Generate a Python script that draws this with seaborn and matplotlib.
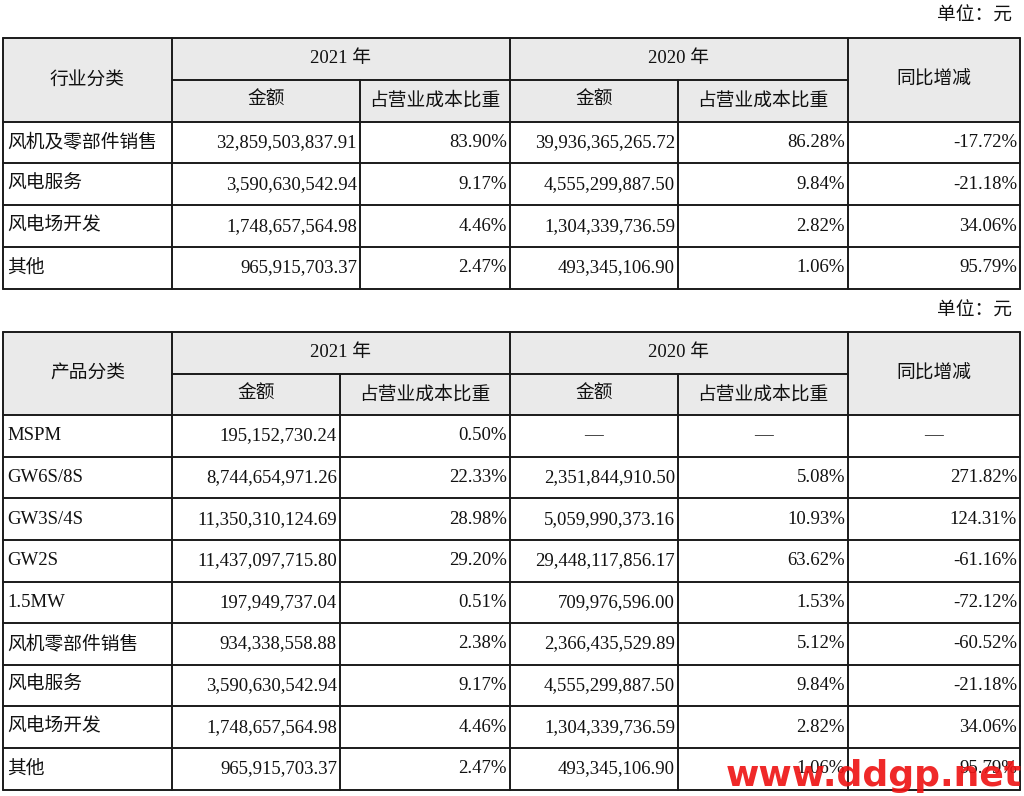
import matplotlib
matplotlib.use("Agg")
import matplotlib.pyplot as plt
import seaborn as sns

sns.set_theme(style="white")

unit = "单位：元"
year_a, year_b = "2021 年", "2020 年"
sub_amt, sub_pct, yoy = "金额", "占营业成本比重", "同比增减"

t1_title = "行业分类"
t1_cats = ["风机及零部件销售", "风电服务", "风电场开发", "其他"]
t1_amt21 = ["32,859,503,837.91", "3,590,630,542.94", "1,748,657,564.98", "965,915,703.37"]
t1_pct21 = ["83.90%", "9.17%", "4.46%", "2.47%"]
t1_amt20 = ["39,936,365,265.72", "4,555,299,887.50", "1,304,339,736.59", "493,345,106.90"]
t1_pct20 = ["86.28%", "9.84%", "2.82%", "1.06%"]
t1_yoy = ["-17.72%", "-21.18%", "34.06%", "95.79%"]

t2_title = "产品分类"
t2_cats = ["MSPM", "GW6S/8S", "GW3S/4S", "GW2S", "1.5MW", "风机零部件销售", "风电服务", "风电场开发", "其他"]
t2_amt21 = ["195,152,730.24", "8,744,654,971.26", "11,350,310,124.69", "11,437,097,715.80",
            "197,949,737.04", "934,338,558.88", "3,590,630,542.94", "1,748,657,564.98", "965,915,703.37"]
t2_pct21 = ["0.50%", "22.33%", "28.98%", "29.20%", "0.51%", "2.38%", "9.17%", "4.46%", "2.47%"]
t2_amt20 = ["—", "2,351,844,910.50", "5,059,990,373.16", "29,448,117,856.17", "709,976,596.00",
            "2,366,435,529.89", "4,555,299,887.50", "1,304,339,736.59", "493,345,106.90"]
t2_pct20 = ["—", "5.08%", "10.93%", "63.62%", "1.53%", "5.12%", "9.84%", "2.82%", "1.06%"]
t2_yoy = ["—", "271.82%", "124.31%", "-61.16%", "-72.12%", "-60.52%", "-21.18%", "34.06%", "95.79%"]

FONT = ["Liberation Serif", "Noto Sans CJK SC"]
fig = plt.figure(figsize=(10.24, 7.96), dpi=100)
ax = fig.add_axes([0, 0, 1, 1])
ax.set_xlim(0, 1024); ax.set_ylim(796, 0); ax.axis("off")
FS = 13.5

def txt(x, y, s, ha="center", **kw):
    ax.text(x, y, s, ha=ha, va="center", fontsize=FS, family=FONT, color="#111", **kw)

def table(top, rowh, cols, title, cats, a21, p21, a20, p20, yy):
    n = len(cats)
    h1 = top + rowh
    bottom = top + rowh * (2 + n)
    ax.add_patch(plt.Rectangle((cols[0], top), cols[-1] - cols[0], 2 * rowh, color="#eaeaea", lw=0))
    lw = 1.4
    ax.plot([cols[0], cols[-1]], [top, top], color="k", lw=lw)
    ax.plot([cols[1], cols[5]], [h1, h1], color="k", lw=lw)
    for i in range(n + 1):
        y = top + rowh * (2 + i)
        ax.plot([cols[0], cols[-1]], [y, y], color="k", lw=lw)
    for j, x in enumerate(cols):
        y0 = h1 if j in (2, 4) else top
        ax.plot([x, x], [y0, bottom], color="k", lw=lw)
    txt((cols[0] + cols[1]) / 2, top + rowh, title)
    txt((cols[1] + cols[3]) / 2, top + rowh / 2, year_a)
    txt((cols[3] + cols[5]) / 2, top + rowh / 2, year_b)
    txt((cols[5] + cols[6]) / 2, top + rowh, yoy)
    for a, b, s in [(1, 2, sub_amt), (2, 3, sub_pct), (3, 4, sub_amt), (4, 5, sub_pct)]:
        txt((cols[a] + cols[b]) / 2, top + 1.5 * rowh, s)
    for i in range(n):
        y = top + rowh * (2.5 + i)
        txt(cols[0] + 4, y, cats[i], ha="left")
        for j, v in enumerate([a21[i], p21[i], a20[i], p20[i], yy[i]]):
            if v == "—":
                txt((cols[j + 1] + cols[j + 2]) / 2, y, v)
            else:
                txt(cols[j + 2] - 3, y, v, ha="right")

txt(1012, 16, unit, ha="right")
table(38, 41.8, [3, 172, 360, 510, 678, 848, 1020], t1_title, t1_cats, t1_amt21, t1_pct21, t1_amt20, t1_pct20, t1_yoy)
txt(1012, 311, unit, ha="right")
table(332, 41.6, [3, 172, 340, 510, 678, 848, 1020], t2_title, t2_cats, t2_amt21, t2_pct21, t2_amt20, t2_pct20, t2_yoy)
ax.text(1022, 776, "www.ddgp.net", ha="right", va="center", fontsize=26, fontweight="bold",
        family="DejaVu Sans", color="#ee1111", alpha=0.9)
fig.savefig("out.png", dpi=100)
